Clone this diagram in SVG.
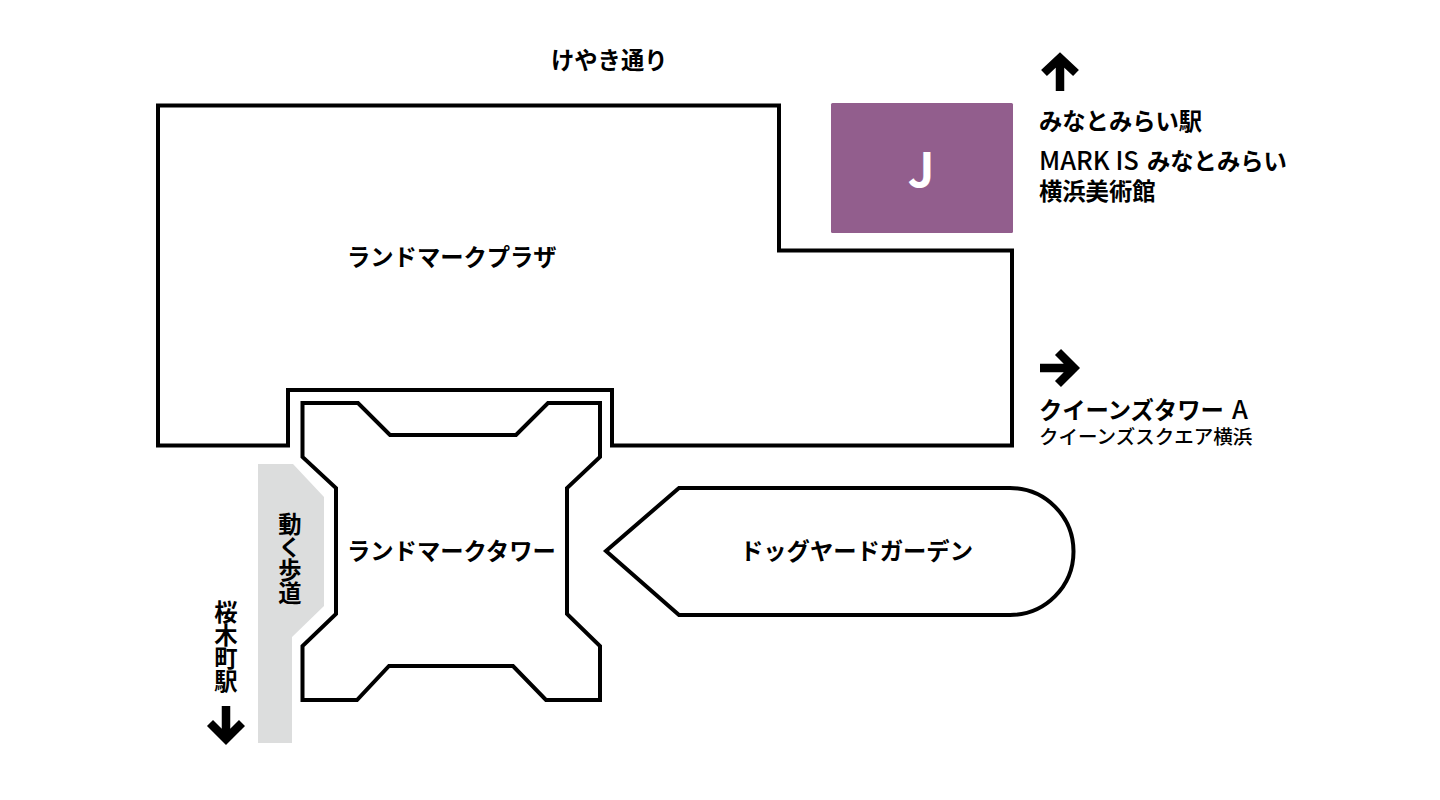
<svg xmlns="http://www.w3.org/2000/svg" width="1440" height="800" viewBox="0 0 1440 800">
<style>
.o{fill:#fff;stroke:#000;stroke-width:4;stroke-linejoin:miter}
.a{fill:none;stroke:#000;stroke-width:8.500;stroke-linejoin:miter}
text{font-family:"Noto Sans CJK JP","Noto Sans",sans-serif;font-weight:700;font-size:23.300px;fill:#000}
.v{writing-mode:vertical-rl;text-orientation:upright}
.l{font-size:25.500px;font-weight:500}
</style>
<rect width="1440" height="800" fill="#fff"/>
<g id="plaza">
<path class="o" d="M158 105.500H779V250.500H1012V445.500H612V390H288V445.500H158Z"/>
<text x="347" y="266">ランドマークプラザ</text>
</g>
<g id="tower">
<path class="o" d="M302.500 403H358L390 435H516L548 403H600V457L567 488V614L600 646V700H546L513 666H389L357 700H302.500V646L336 614V488L302.500 457Z"/>
<text x="347" y="560">ランドマークタワー</text>
</g>
<g id="walkway">
<path fill="#dcdddd" d="M258 464H293L324 497V606L292 637V743H258Z"/>
<text class="v" x="290" y="512">動く歩道</text>
</g>
<g id="dogyard">
<path class="o" d="M606 551L679 488H1010A63.500 63.500 0 0 1 1010 615H679Z"/>
<text x="740" y="560">ドッグヤードガーデン</text>
</g>
<g id="j">
<rect x="831" y="103" width="182" height="130" rx="1.500" fill="#925e8d"/>
<text x="921" y="187" text-anchor="middle" style="font-size:47px;fill:#fff">J</text>
</g>
<g id="keyaki"><text x="551" y="69">けやき通り</text></g>
<g id="minatomirai">
<text x="1039" y="130">みなとみらい駅</text>
<text x="1039" y="170"><tspan class="l">MARK IS</tspan><tspan x="1147">みなとみらい</tspan></text>
<text x="1039" y="200">横浜美術館</text>
</g>
<g id="queens">
<text x="1039" y="419">クイーンズタワー<tspan class="l" x="1232">A</tspan></text>
<text x="1039" y="444" style="font-size:19.500px;font-weight:500">クイーンズスクエア横浜</text>
</g>
<g id="sakuragicho"><text class="v" x="226" y="600">桜木町駅</text></g>
<g id="connectors">
<path class="a" d="M1060 91V57M1044 73L1060 58L1076 73"/>
<path class="a" d="M1040 368H1073M1058 352L1074 368L1058 384"/>
<path class="a" d="M226 706V738M210 723L226 739L242 723"/>
</g>
</svg>
